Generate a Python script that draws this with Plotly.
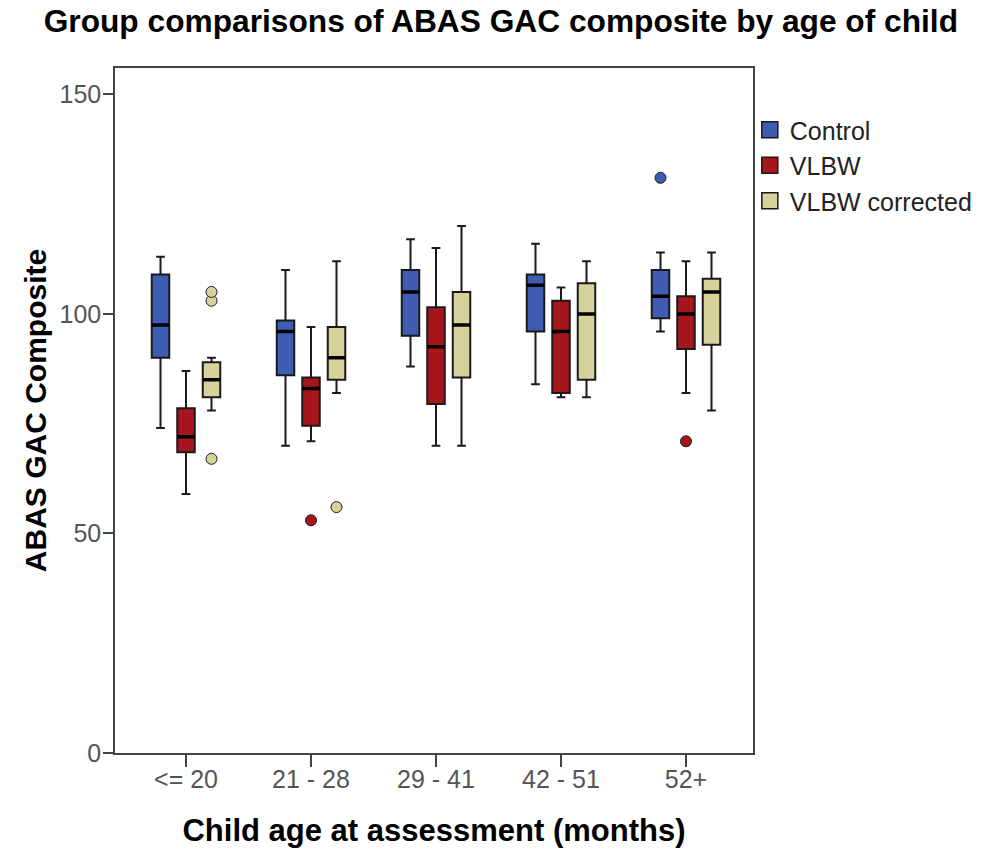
import plotly.graph_objects as go

categories = ["<= 20", "21 - 28", "29 - 41", "42 - 51", "52+"]
series_names = ["Control", "VLBW", "VLBW corrected"]

control_lower = [74, 70, 88, 84, 96]
control_q1 = [90, 86, 95, 96, 99]
control_median = [97.5, 96, 105, 106.5, 104]
control_q3 = [109, 98.5, 110, 109, 110]
control_upper = [113, 110, 117, 116, 114]
control_outliers = [[], [], [], [], [131]]

vlbw_lower = [59, 71, 70, 81, 82]
vlbw_q1 = [68.5, 74.5, 79.5, 82, 92]
vlbw_median = [72, 83, 92.5, 96, 100]
vlbw_q3 = [78.5, 85.5, 101.5, 103, 104]
vlbw_upper = [87, 97, 115, 106, 112]
vlbw_outliers = [[], [53], [], [], [71]]

corr_lower = [78, 82, 70, 81, 78]
corr_q1 = [81, 85, 85.5, 85, 93]
corr_median = [85, 90, 97.5, 100, 105]
corr_q3 = [89, 97, 105, 107, 108]
corr_upper = [90, 112, 120, 112, 114]
corr_outliers = [[105, 103, 67], [56], [], [], []]

y_ticks = [0, 50, 100, 150]

colors = ["#3D5CB2", "#A8161D", "#D7D29B"]
stats = [
    (control_lower, control_q1, control_median, control_q3, control_upper, control_outliers),
    (vlbw_lower, vlbw_q1, vlbw_median, vlbw_q3, vlbw_upper, vlbw_outliers),
    (corr_lower, corr_q1, corr_median, corr_q3, corr_upper, corr_outliers),
]

FONT = "Liberation Sans, Arial, sans-serif"
EDGE = "#1a1a1a"
fig = go.Figure()

for name, col, (lo, q1, med, q3, up, outl) in zip(series_names, colors, stats):
    # empty groups get a single null so plotly reads y as per-box samples
    samples = [list(o) if len(o) else [None] for o in outl]
    fig.add_trace(go.Box(
        name=name, x=categories, y=samples,
        lowerfence=lo, q1=q1, median=med, q3=q3, upperfence=up,
        boxpoints="outliers", pointpos=0, jitter=0,
        fillcolor=col,
        line=dict(color=EDGE, width=2),
        marker=dict(color=col, size=11, line=dict(color=EDGE, width=1)),
        whiskerwidth=0.5,
        offsetgroup=name, alignmentgroup="a",
        showlegend=False,
    ))
    # thick median bar overlay
    fig.add_trace(go.Box(
        name=name, x=categories,
        lowerfence=med, q1=med, median=med, q3=med, upperfence=med,
        boxpoints=False,
        fillcolor="rgba(0,0,0,0)",
        line=dict(color="#000000", width=3.5),
        whiskerwidth=0.5,
        offsetgroup=name, alignmentgroup="a",
        showlegend=False, hoverinfo="skip",
    ))

# legend entries with larger square swatches
for name, col in zip(series_names, colors):
    fig.add_trace(go.Scatter(
        x=[None], y=[None], mode="markers", name=name,
        marker=dict(symbol="square", size=16, color=col, line=dict(color=EDGE, width=1.5)),
        showlegend=True, hoverinfo="skip",
    ))

fig.update_layout(
    width=984, height=850,
    paper_bgcolor="white", plot_bgcolor="white",
    margin=dict(l=115, r=231, t=68, b=97, autoexpand=False),
    boxmode="group", boxgap=0.388, boxgroupgap=0.314,
    font=dict(family=FONT, color="#000"),
    title=dict(
        text="<b>Group comparisons of ABAS GAC composite by age of child</b>",
        x=0.509, xref="container", xanchor="center",
        y=0.975, yref="container", yanchor="middle",
        font=dict(size=31.7, color="#000", family=FONT),
    ),
    legend=dict(
        x=0.995, xanchor="left", y=0.943, yanchor="top",
        font=dict(size=25, color="#222", family=FONT),
        bgcolor="rgba(0,0,0,0)", itemsizing="trace",
        tracegroupgap=0, itemwidth=30,
    ),
    showlegend=True,
)

fig.update_xaxes(
    type="category", range=[-0.568, 4.536],
    showline=True, linecolor="#444", linewidth=1.5, mirror=True,
    ticks="outside", ticklen=12, tickwidth=1.5, tickcolor="#444",
    ticklabelstandoff=-9,
    tickfont=dict(size=25, color="#555", family=FONT),
    showgrid=False, zeroline=False,
    title=dict(text="<b>Child age at assessment (months)</b>",
               font=dict(size=31, color="#000", family=FONT), standoff=28),
)
fig.update_yaxes(
    range=[0, 156], tickvals=y_ticks, ticktext=[str(v) for v in y_ticks],
    showline=True, linecolor="#444", linewidth=1.5, mirror=True,
    ticks="outside", ticklen=10, tickwidth=1.5, tickcolor="#444",
    ticklabelstandoff=-3,
    tickfont=dict(size=25, color="#555", family=FONT),
    showgrid=False, zeroline=False,
    title=dict(text="<b>ABAS GAC Composite</b>",
               font=dict(size=30, color="#000", family=FONT), standoff=4),
)

fig.write_html("out.html")
